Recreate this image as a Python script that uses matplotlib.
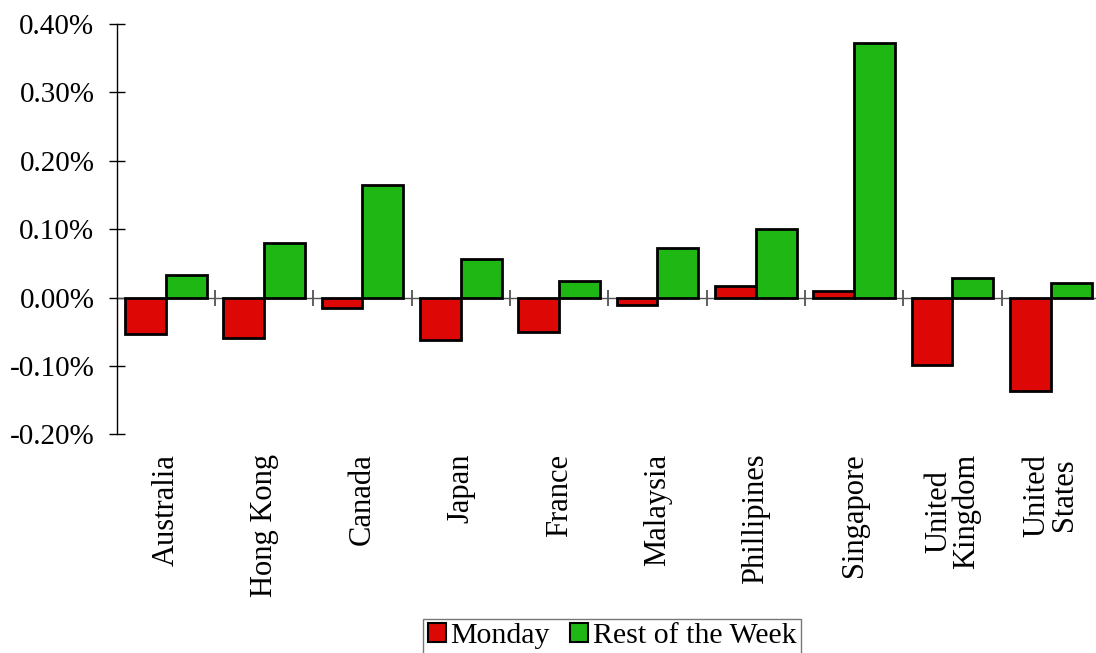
import numpy as np
import matplotlib
matplotlib.use("Agg")
import matplotlib.pyplot as plt
from matplotlib.ticker import FixedLocator, FuncFormatter

# values (percent returns)
countries = ["Australia", "Hong Kong", "Canada", "Japan", "France", "Malaysia",
             "Phillipines", "Singapore", "United\nKingdom", "United\nStates"]
monday = [-0.054, -0.059, -0.016, -0.062, -0.050, -0.011, 0.017, 0.009, -0.098, -0.136]
rest_of_week = [0.033, 0.080, 0.165, 0.056, 0.024, 0.072, 0.100, 0.372, 0.028, 0.021]
y_ticks = [-0.20, -0.10, 0.00, 0.10, 0.20, 0.30, 0.40]

RED = "#DD0806"
GREEN = "#1FB714"

plt.rcParams["font.family"] = ["Liberation Serif", "DejaVu Serif"]
FS_Y = 21
FS_X = 22
FS_LEG = 21.5

fig = plt.figure(figsize=(10.96, 6.53), dpi=100)
W, H = 1096, 653
ax = fig.add_axes([116.6 / W, 1 - 434.3 / H, (1100 - 116.6) / W, (434.3 - 24) / H])

x = np.arange(len(countries))
bw = 0.415
ax.bar(x - bw / 2, monday, bw, color=RED, edgecolor="black", linewidth=2.0,
       label="Monday", zorder=3)
ax.bar(x + bw / 2, rest_of_week, bw, color=GREEN, edgecolor="black", linewidth=2.0,
       label="Rest of the Week", zorder=3)

ax.set_xlim(-0.5, len(countries) - 0.5)
ax.set_ylim(y_ticks[0], y_ticks[-1])

# y axis
for s in ["top", "right"]:
    ax.spines[s].set_visible(False)
ax.spines["left"].set_linewidth(1.0)
ax.set_yticks(y_ticks)
ax.yaxis.set_major_formatter(FuncFormatter(lambda v, p: f"{v:.2f}%"))
ax.tick_params(axis="y", direction="inout", length=12, width=1.0, pad=10,
               labelsize=FS_Y)

# x axis drawn at zero, with ticks between the categories
ax.spines["bottom"].set_position(("data", 0))
ax.spines["bottom"].set_color("#555555")
ax.spines["bottom"].set_linewidth(1.0)
ax.spines["bottom"].set_zorder(2)
ax.xaxis.set_major_locator(FixedLocator(x))
ax.xaxis.set_major_formatter(FuncFormatter(lambda v, p: ""))
ax.xaxis.set_minor_locator(FixedLocator(x[:-1] + 0.5))
ax.tick_params(axis="x", which="major", length=0)
ax.tick_params(axis="x", which="minor", direction="inout", length=12, width=1.2,
               color="#444444")

# category labels below the plot area
sec = ax.secondary_xaxis("bottom")
sec.spines["bottom"].set_visible(False)
sec.set_xticks(x)
sec.set_xticklabels(countries, rotation=90, fontsize=FS_X, linespacing=0.92)
sec.tick_params(axis="x", length=0, pad=14)

leg = fig.legend(loc="upper center", bbox_to_anchor=(612 / W, 1 - 619 / H),
                 ncol=2, fontsize=FS_LEG, frameon=True, fancybox=False,
                 handlelength=0.6, handleheight=0.6, handletextpad=0.15,
                 columnspacing=0.7, borderpad=0.15, borderaxespad=0)
leg.get_frame().set_edgecolor("#555555")
leg.get_frame().set_linewidth(1.0)
for h in leg.legend_handles:
    h.set_linewidth(1.5)

fig.savefig("out.png", dpi=100)
